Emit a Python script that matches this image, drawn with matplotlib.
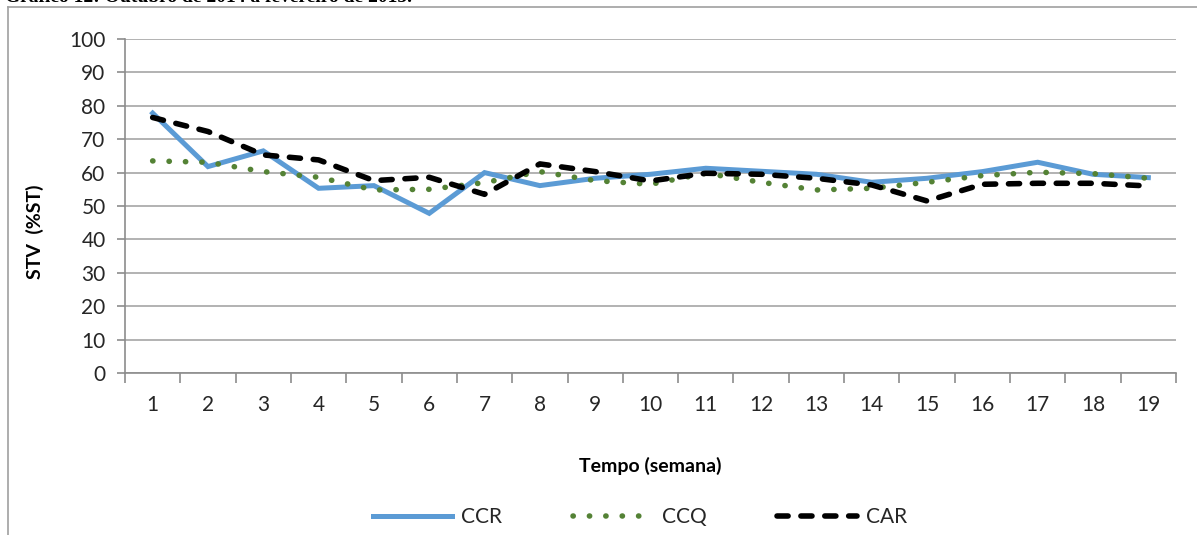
import matplotlib
matplotlib.use('Agg')
import matplotlib.pyplot as plt
from matplotlib.lines import Line2D

semanas = list(range(1, 20))
ccr = [77.8, 61.8, 66.5, 55.3, 56.1, 47.8, 60.0, 56.1, 58.3, 59.5,
       61.3, 60.4, 59.5, 57.1, 58.3, 60.3, 63.1, 59.5, 58.5]
ccq = [63.5, 63.1, 60.3, 58.6, 54.8, 55.0, 57.0, 60.3, 57.6, 56.5,
       59.8, 57.1, 54.8, 55.3, 57.1, 59.1, 60.1, 59.7, 58.3]
car = [76.5, 72.3, 65.3, 63.8, 57.6, 58.6, 53.5, 62.6, 60.3, 57.5,
       59.8, 59.5, 58.3, 56.3, 51.5, 56.5, 56.8, 56.8, 56.0]
y_ticks = list(range(0, 101, 10))

plt.rcParams.update({
    'font.family': ['Lato', 'DejaVu Sans'],
    'font.size': 14,
})

W, H = 1197, 535
fig = plt.figure(figsize=(W / 100, H / 100), dpi=100)
ax = fig.add_axes([125 / W, 1 - 373 / H, (1176 - 125) / W, (373 - 39) / H])

ax.plot(semanas, ccr, color='#5B9BD5', linewidth=3.6, solid_joinstyle='miter',
        label='CCR', zorder=3)
ax.plot(semanas, ccq, color='#548235', linewidth=4.0, linestyle=(0, (0.05, 2.9)),
        dash_capstyle='round', label='CCQ', zorder=4)
ax.plot(semanas, car, color='black', linewidth=4.0, linestyle=(0, (2.0, 2.3)),
        dash_capstyle='round', label='CAR', zorder=5)

ax.set_xlim(0.5, 19.5)
ax.set_ylim(0, 100)
ax.set_yticks(y_ticks)
ax.set_xticks(semanas)
ax.set_xticks([s - 0.5 for s in semanas] + [19.5], minor=True)
ax.yaxis.grid(True, color='#a6a6a6', linewidth=1.2)
ax.set_axisbelow(True)

for side in ['top', 'right']:
    ax.spines[side].set_visible(False)
for side in ['left', 'bottom']:
    ax.spines[side].set_color('#8c8c8c')
    ax.spines[side].set_linewidth(1.2)

ax.tick_params(axis='y', length=6, width=1.2, color='#8c8c8c', pad=8,
               labelsize=15, labelcolor='#262626')
ax.tick_params(axis='x', which='major', length=0, pad=16, labelsize=15,
               labelcolor='#262626')
ax.tick_params(axis='x', which='minor', length=7, width=1.2, color='#8c8c8c',
               direction='out')

fig.text(650 / W, 1 - 466 / H, 'Tempo (semana)', ha='center', va='center',
         fontsize=14, fontweight='bold')
fig.text(35 / W, 1 - 232 / H, 'STV  (%ST)', ha='center', va='center',
         rotation=90, fontsize=14, fontweight='bold')

leg = fig.legend(loc='center', bbox_to_anchor=(640 / W, 1 - 517 / H), ncol=3,
                 frameon=False, handlelength=3.8, columnspacing=3.4,
                 handletextpad=0.45, fontsize=15)
for t in leg.get_texts():
    t.set_color('#262626')

# outer frame of the chart
fig.add_artist(Line2D([8 / W, 8 / W], [0, 1 - 7 / H], color='#a0a0a0',
                      linewidth=1.2, transform=fig.transFigure))
fig.add_artist(Line2D([8 / W, 1], [1 - 7 / H, 1 - 7 / H], color='#a0a0a0',
                      linewidth=1.2, transform=fig.transFigure))

# caption cut off at the top of the image
fig.text(5 / W, 1 - 1.5 / H, 'Gráfico 12: Outubro de 2014 a fevereiro de 2015.',
         ha='left', va='baseline', fontsize=14, fontweight='bold',
         family='Liberation Serif')

fig.savefig('out.png', dpi=100)
